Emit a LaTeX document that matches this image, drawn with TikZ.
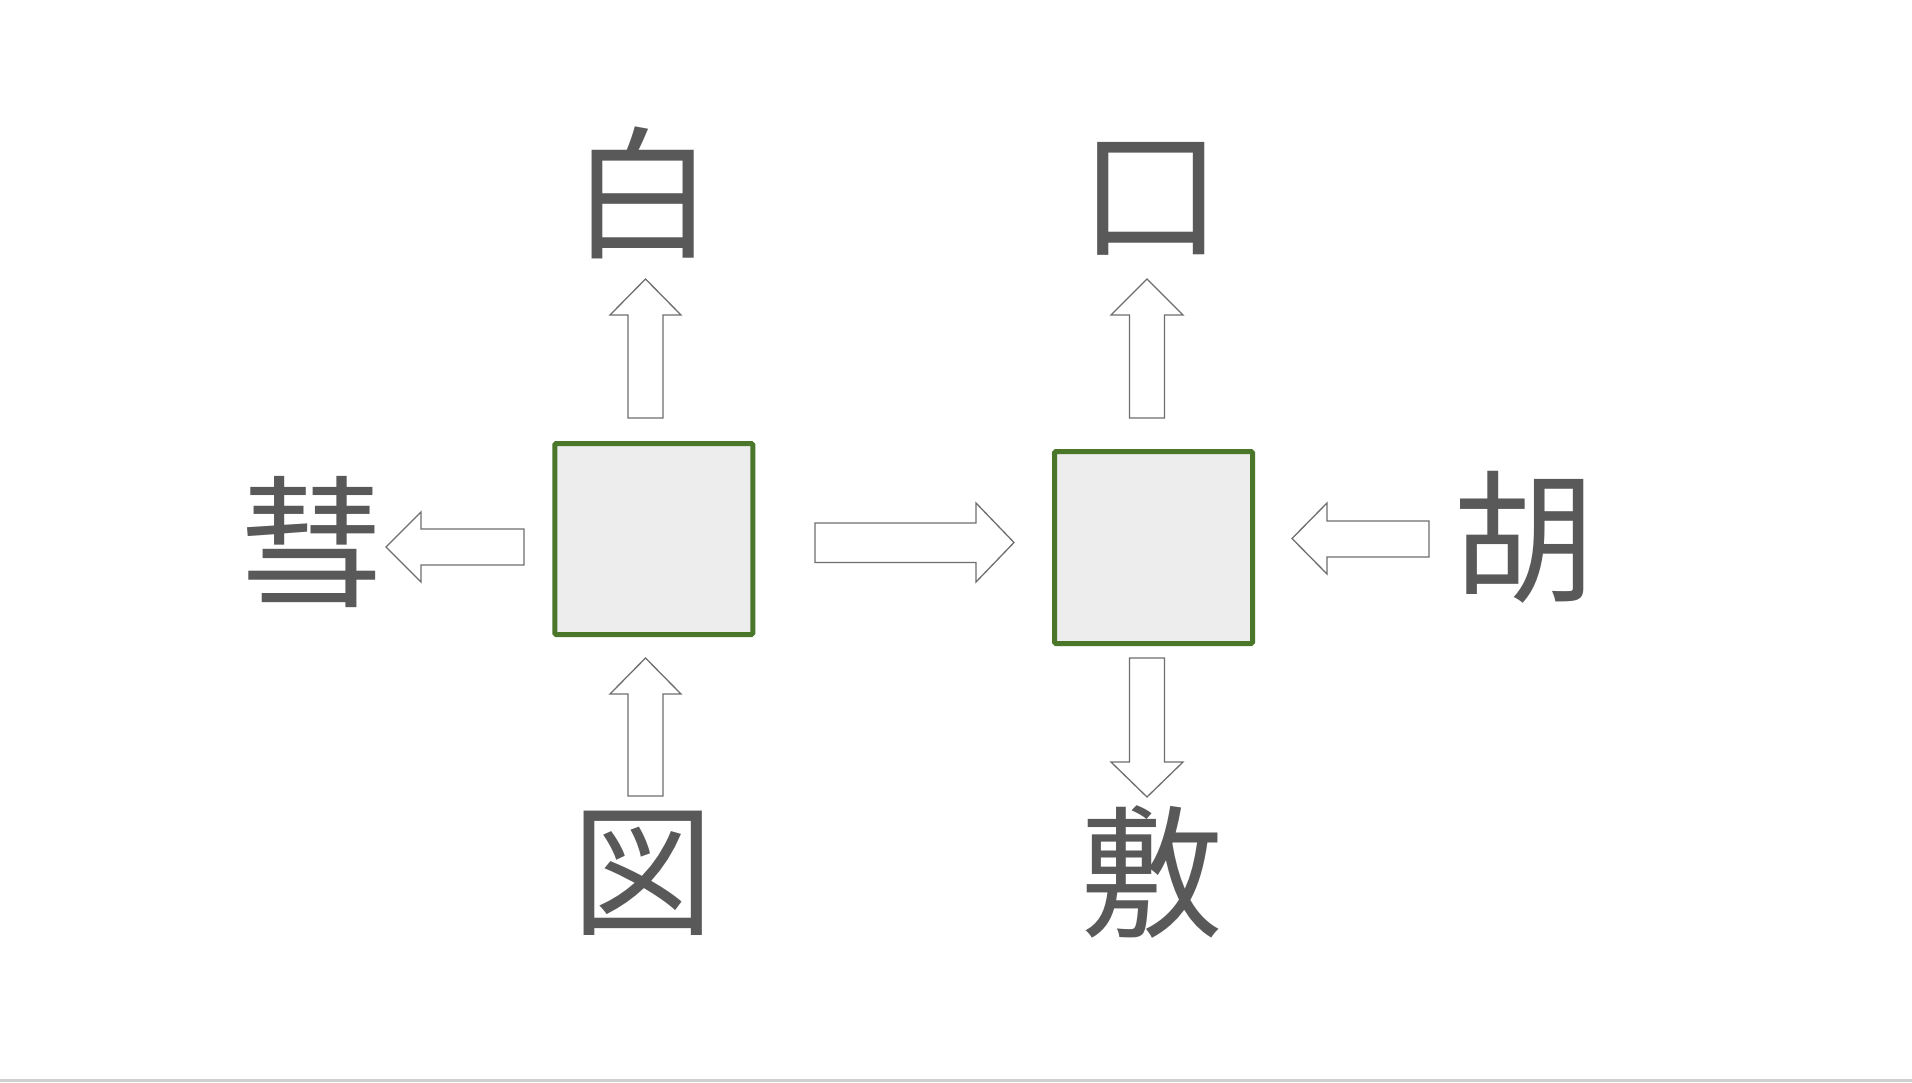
\documentclass[tikz,border=0pt]{standalone}
\usepackage{fontspec}
\newfontfamily\jpfont{Noto Sans CJK JP}
\definecolor{txtgray}{HTML}{595959}
\definecolor{boxgreen}{HTML}{4A7729}
\definecolor{boxfill}{HTML}{EDEDED}
\definecolor{arrgray}{HTML}{6E6E6E}
\definecolor{linegray}{HTML}{CFCFCF}
\tikzset{
  lbl/.style={inner sep=0pt, text=txtgray, font=\jpfont\fontsize{143}{160}\selectfont},
  greenbox/.style={draw=boxgreen, line width=5pt, fill=boxfill, rounded corners=1.5pt, inner sep=0pt},
  blockarr/.style={draw=arrgray, line width=1.3pt, fill=white, line join=miter}
}
\begin{document}
\begin{tikzpicture}[x=1pt,y=-1pt]
\useasboundingbox (0,0) rectangle (1912,1082);
\fill[white] (0,0) rectangle (1912,1082);
\draw[linegray, line width=2.5pt] (0,1080.5) -- (1912,1080.5);
% boxes
\node[greenbox, minimum width=198pt, minimum height=191pt] (b1) at (653.75,539) {};
\node[greenbox, minimum width=198pt, minimum height=192pt] (b2) at (1153.5,547.5) {};
% labels
\node[lbl] (bai) at (643,193) {白};
\node[lbl] (kou) at (1151,199) {口};
\node[lbl] (hui) at (312,542) {彗};
\node[lbl] (hu) at (1524,537) {胡};
\node[lbl] (zu) at (643,873) {図};
\node[lbl] (fu) at (1152,872) {敷};
% block arrows
\draw[blockarr] (628,418)--(628,315)--(610,315)--(645.5,279)--(681,315)--(663,315)--(663,418)--cycle;
\draw[blockarr] (1129.5,418)--(1129.5,315)--(1111,315)--(1147,279)--(1183,315)--(1164.5,315)--(1164.5,418)--cycle;
\draw[blockarr] (628,796)--(628,694)--(610,694)--(645.5,658)--(681,694)--(663,694)--(663,796)--cycle;
\draw[blockarr] (1129.5,658)--(1129.5,762)--(1111,762)--(1147,797)--(1183,762)--(1164.5,762)--(1164.5,658)--cycle;
\draw[blockarr] (524,529)--(421,529)--(421,512)--(386,547)--(421,582)--(421,565)--(524,565)--cycle;
\draw[blockarr] (815,523)--(976,523)--(976,503)--(1014,542.5)--(976,582)--(976,562.5)--(815,562.5)--cycle;
\draw[blockarr] (1429,521)--(1327,521)--(1327,503)--(1292,538.5)--(1327,574)--(1327,557)--(1429,557)--cycle;
\end{tikzpicture}
\end{document}
